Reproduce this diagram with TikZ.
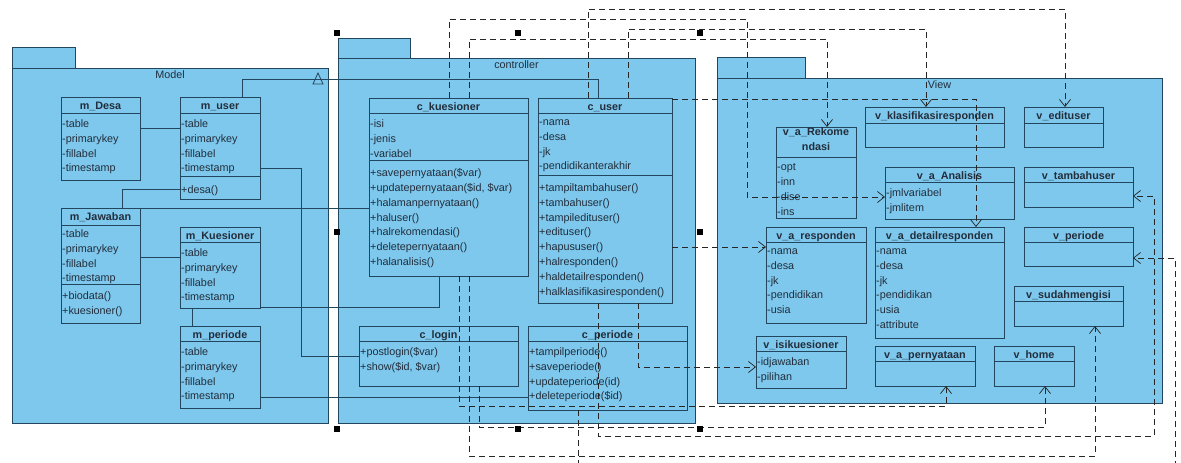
\documentclass[tikz,border=0pt]{standalone}
\usepackage{fontspec}
\setmainfont{Liberation Sans}
\usepackage{tikz}
\usetikzlibrary{positioning, arrows.meta, calc}

\definecolor{pkgblue}{RGB}{125,200,236}
\definecolor{umlline}{RGB}{35,70,95}
\definecolor{umltext}{RGB}{35,45,60}

\begin{document}
\begin{tikzpicture}[
    x=1pt, y=-1pt,
    font=\fontsize{10.8}{14.8}\selectfont,
    pkg/.style={draw=umlline, fill=pkgblue, line width=0.9pt, inner sep=0pt, outer sep=0pt, anchor=north west},
    pkgtab/.style={pkg, anchor=south west},
    pkglabel/.style={anchor=base, inner sep=0pt, text=umltext},
    cls/.style={draw=umlline, fill=pkgblue, line width=0.9pt, inner sep=0pt, outer sep=0pt, anchor=north west},
    compline/.style={draw=umlline, line width=0.9pt},
    clstitle/.style={anchor=north, inner sep=0pt, align=center, font=\fontsize{10.8}{14.8}\selectfont\bfseries, text=umltext, execute at begin node=\strut},
    members/.style={anchor=north west, inner xsep=1pt, inner ysep=0pt, yshift=-2.5pt, align=left, text=umltext, execute at begin node=\strut},
    assoc/.style={draw=umlline, line width=0.8pt},
    dep/.style={draw=black!85, line width=0.7pt, dash pattern=on 6pt off 4pt, -{Straight Barb[length=7pt,width=11pt]}}
]
    \useasboundingbox (0,0) rectangle (1181,463);
    \clip (0,0) rectangle (1181,463);

    % packages
    \node[pkg, minimum width=316pt, minimum height=355pt] (model) at (12,68) {};
    \node[pkgtab, minimum width=63pt, minimum height=21pt] (modeltab) at (model.north west) {};
    \node[pkglabel] at ($(model.north)+(0,10)$) {Model};

    \node[pkg, minimum width=357pt, minimum height=365pt] (controller) at (338,58) {};
    \node[pkgtab, minimum width=72pt, minimum height=20pt] (controllertab) at (controller.north west) {};
    \node[pkglabel] at ($(controller.north)+(0,10.5)$) {controller};

    \node[pkg, minimum width=445pt, minimum height=325pt] (view) at (717,78) {};
    \node[pkgtab, minimum width=88pt, minimum height=21pt] (viewtab) at (view.north west) {};
    \node[pkglabel] at ($(view.north)+(0,10)$) {View};

    % Model classes
    \node[cls, minimum width=79pt, minimum height=83pt] (mDesa) at (61,97) {};
    \draw[compline] ($(mDesa.north west)+(0,16)$) -- ++(79,0);
    \node[clstitle] at ($(mDesa.north)+(0,1.5)$) {m\_Desa};
    \node[members] at ($(mDesa.north west)+(0,20)$) {-table\\-primarykey\\-fillabel\\-timestamp};

    \node[cls, minimum width=80pt, minimum height=102pt] (mUser) at (180,97) {};
    \draw[compline] ($(mUser.north west)+(0,16)$) -- ++(80,0) ($(mUser.north west)+(0,79)$) -- ++(80,0);
    \node[clstitle] at ($(mUser.north)+(0,1.5)$) {m\_user};
    \node[members] at ($(mUser.north west)+(0,20)$) {-table\\-primarykey\\-fillabel\\-timestamp};
    \node[members] at ($(mUser.north west)+(0,83)$) {+desa()};

    \node[cls, minimum width=79pt, minimum height=115pt] (mJawaban) at (61,208) {};
    \draw[compline] ($(mJawaban.north west)+(0,17)$) -- ++(79,0) ($(mJawaban.north west)+(0,76)$) -- ++(79,0);
    \node[clstitle] at ($(mJawaban.north)+(0,2)$) {m\_Jawaban};
    \node[members] at ($(mJawaban.north west)+(0,19)$) {-table\\-primarykey\\-fillabel\\-timestamp};
    \node[members] at ($(mJawaban.north west)+(0,81)$) {+biodata()\\+kuesioner()};

    \node[cls, minimum width=80pt, minimum height=81pt] (mKuesioner) at (180,227) {};
    \draw[compline] ($(mKuesioner.north west)+(0,15)$) -- ++(80,0);
    \node[clstitle] at ($(mKuesioner.north)+(0,1.5)$) {m\_Kuesioner};
    \node[members] at ($(mKuesioner.north west)+(0,19)$) {-table\\-primarykey\\-fillabel\\-timestamp};

    \node[cls, minimum width=80pt, minimum height=82pt] (mPeriode) at (180,326) {};
    \draw[compline] ($(mPeriode.north west)+(0,15)$) -- ++(80,0);
    \node[clstitle] at ($(mPeriode.north)+(0,1.5)$) {m\_periode};
    \node[members] at ($(mPeriode.north west)+(0,19)$) {-table\\-primarykey\\-fillabel\\-timestamp};

    % controller classes
    \node[cls, minimum width=159pt, minimum height=178pt] (cKuesioner) at (369,98) {};
    \draw[compline] ($(cKuesioner.north west)+(0,15)$) -- ++(159,0) ($(cKuesioner.north west)+(0,62)$) -- ++(159,0);
    \node[clstitle] at ($(cKuesioner.north)+(0,1.5)$) {c\_kuesioner};
    \node[members] at ($(cKuesioner.north west)+(0,19)$) {-isi\\-jenis\\-variabel};
    \node[members] at ($(cKuesioner.north west)+(0,68)$) {+savepernyataan(\$var)\\+updatepernyataan(\$id, \$var)\\+halamanpernyataan()\\+haluser()\\+halrekomendasi()\\+deletepernyataan()\\+halanalisis()};

    \node[cls, minimum width=134pt, minimum height=205pt] (cUser) at (538,98) {};
    \draw[compline] ($(cUser.north west)+(0,15)$) -- ++(134,0) ($(cUser.north west)+(0,77)$) -- ++(134,0);
    \node[clstitle] at ($(cUser.north)+(0,1.5)$) {c\_user};
    \node[members] at ($(cUser.north west)+(0,19)$) {-nama\\-desa\\-jk\\-pendidikanterakhir};
    \node[members] at ($(cUser.north west)+(0,83)$) {+tampiltambahuser()\\+tambahuser()\\+tampiledituser()\\+edituser()\\+hapususer()\\+halresponden()\\+haldetailresponden()\\+halklasifikasiresponden()};

    \node[cls, minimum width=159pt, minimum height=60pt] (cLogin) at (359,326) {};
    \draw[compline] ($(cLogin.north west)+(0,15)$) -- ++(159,0);
    \node[clstitle] at ($(cLogin.north)+(0,1.5)$) {c\_login};
    \node[members] at ($(cLogin.north west)+(0,19)$) {+postlogin(\$var)\\+show(\$id, \$var)};

    \node[cls, minimum width=159pt, minimum height=84pt] (cPeriode) at (528,326) {};
    \draw[compline] ($(cPeriode.north west)+(0,15)$) -- ++(159,0);
    \node[clstitle] at ($(cPeriode.north)+(0,1.5)$) {c\_periode};
    \node[members] at ($(cPeriode.north west)+(0,19)$) {+tampilperiode()\\+saveperiode()\\+updateperiode(id)\\+deleteperiode(\$id)};

    % View classes
    \node[cls, minimum width=80pt, minimum height=91pt] (vRekom) at (776,127) {};
    \draw[compline] ($(vRekom.north west)+(0,30)$) -- ++(80,0);
    \node[clstitle] at ($(vRekom.north)+(0,0.5)$) {v\_a\_Rekome\\ndasi};
    \node[members] at ($(vRekom.north west)+(0,34)$) {-opt\\-inn\\-dise\\-ins};

    \node[cls, minimum width=139pt, minimum height=40pt] (vKlasifikasi) at (865,107) {};
    \draw[compline] ($(vKlasifikasi.north west)+(0,16)$) -- ++(139,0);
    \node[clstitle] at ($(vKlasifikasi.north)+(0,1.5)$) {v\_klasifikasiresponden};

    \node[cls, minimum width=79pt, minimum height=40pt] (vEdituser) at (1024,107) {};
    \draw[compline] ($(vEdituser.north west)+(0,16)$) -- ++(79,0);
    \node[clstitle] at ($(vEdituser.north)+(0,1.5)$) {v\_edituser};

    \node[cls, minimum width=129pt, minimum height=52pt] (vAnalisis) at (885,167) {};
    \draw[compline] ($(vAnalisis.north west)+(0,15)$) -- ++(129,0);
    \node[clstitle] at ($(vAnalisis.north)+(0,1.5)$) {v\_a\_Analisis};
    \node[members] at ($(vAnalisis.north west)+(0,19)$) {-jmlvariabel\\-jmlitem};

    \node[cls, minimum width=109pt, minimum height=40pt] (vTambahuser) at (1024,167) {};
    \draw[compline] ($(vTambahuser.north west)+(0,15)$) -- ++(109,0);
    \node[clstitle] at ($(vTambahuser.north)+(0,1.5)$) {v\_tambahuser};

    \node[cls, minimum width=100pt, minimum height=96pt] (vResponden) at (766,227) {};
    \draw[compline] ($(vResponden.north west)+(0,15)$) -- ++(100,0);
    \node[clstitle] at ($(vResponden.north)+(0,1.5)$) {v\_a\_responden};
    \node[members] at ($(vResponden.north west)+(0,19)$) {-nama\\-desa\\-jk\\-pendidikan\\-usia};

    \node[cls, minimum width=129pt, minimum height=111pt] (vDetail) at (875,227) {};
    \draw[compline] ($(vDetail.north west)+(0,15)$) -- ++(129,0);
    \node[clstitle] at ($(vDetail.north)+(0,1.5)$) {v\_a\_detailresponden};
    \node[members] at ($(vDetail.north west)+(0,19)$) {-nama\\-desa\\-jk\\-pendidikan\\-usia\\-attribute};

    \node[cls, minimum width=109pt, minimum height=39pt] (vPeriode) at (1024,227) {};
    \draw[compline] ($(vPeriode.north west)+(0,15)$) -- ++(109,0);
    \node[clstitle] at ($(vPeriode.north)+(0,1.5)$) {v\_periode};

    \node[cls, minimum width=109pt, minimum height=40pt] (vSudah) at (1014,286) {};
    \draw[compline] ($(vSudah.north west)+(0,15)$) -- ++(109,0);
    \node[clstitle] at ($(vSudah.north)+(0,1.5)$) {v\_sudahmengisi};

    \node[cls, minimum width=90pt, minimum height=52pt] (vIsi) at (756,336) {};
    \draw[compline] ($(vIsi.north west)+(0,15)$) -- ++(90,0);
    \node[clstitle] at ($(vIsi.north)+(0,1.5)$) {v\_isikuesioner};
    \node[members] at ($(vIsi.north west)+(0,19)$) {-idjawaban\\-pilihan};

    \node[cls, minimum width=100pt, minimum height=40pt] (vPernyataan) at (875,346) {};
    \draw[compline] ($(vPernyataan.north west)+(0,15)$) -- ++(100,0);
    \node[clstitle] at ($(vPernyataan.north)+(0,1.5)$) {v\_a\_pernyataan};

    \node[cls, minimum width=80pt, minimum height=40pt] (vHome) at (994,346) {};
    \draw[compline] ($(vHome.north west)+(0,15)$) -- ++(80,0);
    \node[clstitle] at ($(vHome.north)+(0,1.5)$) {v\_home};

    % solid links from the models
    \draw[assoc] ($(mDesa.north east)+(0,31)$) -- ($(mUser.north west)+(0,31)$);
    \draw[assoc] ($(mUser.north)+(22,0)$) -- ++(0,-18) -| ($(cUser.north)+(-7,0)$);
    \draw[assoc] (313,84) -- (318,73) -- (323,84) -- cycle;
    \draw[assoc] ($(mUser.north east)+(0,71)$) -| ($(cLogin.west)+(-58,0)$) -- (cLogin.west);
    \draw[assoc] ($(mUser.north west)+(0,92)$) -| ($(mJawaban.north)+(21.5,0)$);
    \draw[assoc] (mJawaban.north east) -- (mJawaban.north east -| cKuesioner.west);
    \draw[assoc] ($(mJawaban.north east)+(0,49)$) -- ($(mKuesioner.north west)+(0,30)$);
    \draw[assoc] ($(mKuesioner.south east)+(0,-1)$) -| ($(cKuesioner.south)+(-9.5,0)$);
    \draw[assoc] ($(mKuesioner.south west)+(12,0)$) -- ($(mPeriode.north west)+(12,0)$);
    \draw[assoc] ($(mPeriode.north east)+(0,71)$) -- ($(cPeriode.north west)+(0,71)$);

    % dependencies from the controllers to the views
    \draw[dep] ($(cKuesioner.north)+(0.5,0)$) -- ++(0,-79) -| ($(vAnalisis.west)+(-138,4)$) -- ($(vAnalisis.west)+(0,4)$);
    \draw[dep] ($(cKuesioner.north)+(20.5,0)$) |- ($(vRekom.north)+(11,-88)$) -- ($(vRekom.north)+(11,0)$);
    \draw[dep] ($(cUser.north)+(-17,0)$) |- ($(vEdituser.north)+(1.5,-98)$) -- ($(vEdituser.north)+(1.5,0)$);
    \draw[dep] ($(cUser.north)+(23,0)$) |- ($(vKlasifikasi.north)+(-8.5,-78)$) -- ($(vKlasifikasi.north)+(-8.5,0)$);
    \draw[dep] ($(cUser.north east)+(0,1)$) -| ($(vDetail.north)+(36.5,0)$);
    \draw[dep] ($(cUser.north east)+(0,149)$) -- ($(vResponden.north west)+(0,20)$);
    \draw[dep] ($(cUser.south)+(33,0)$) |- ($(vIsi.west)+(0,5)$);
    \draw[dep] ($(cUser.south)+(-7,0)$) -- ++(0,133) -| ($(vTambahuser.east)+(21,9)$) -- ($(vTambahuser.east)+(0,9)$);
    \draw[dep] ($(cKuesioner.south)+(10.5,0)$) |- ($(vPernyataan.south)+(21,20)$) -- ($(vPernyataan.south)+(21,0)$);
    \draw[dep] ($(cKuesioner.south)+(20.5,0)$) |- ($(vSudah.south)+(26.5,130)$) -- ($(vSudah.south)+(26.5,0)$);
    \draw[dep] ($(cLogin.south)+(40.5,0)$) |- ($(vHome.south)+(11,41)$) -- ($(vHome.south)+(11,0)$);
    \draw[dep] ($(cPeriode.south)+(-29.5,0)$) -- ++(0,60) -| ($(vPeriode.east)+(42,11.5)$) -- ($(vPeriode.east)+(0,11.5)$);

    % selection handles round the controller package
    \foreach \hx/\hy in {337/33, 518/33, 700/33, 337/232, 700/232, 337/429, 518/429, 700/429}
        \fill[black] (\hx-3,\hy-3) rectangle ++(6,6);
\end{tikzpicture}
\end{document}
